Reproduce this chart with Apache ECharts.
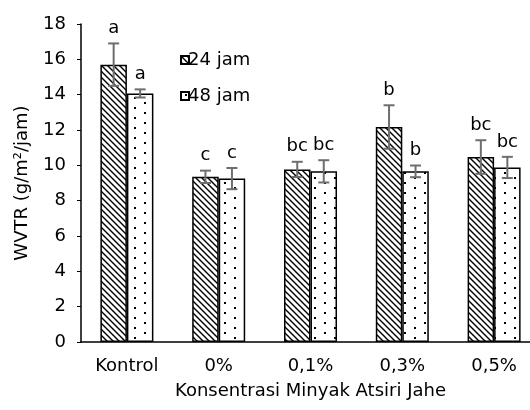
<!DOCTYPE html>
<html><head><meta charset="utf-8">
<script src="https://cdn.jsdelivr.net/npm/echarts@6/dist/echarts.min.js"></script>
<style>html,body{margin:0;padding:0;background:#fff;overflow:hidden;width:530px;height:410px}#c{width:540px;height:410px}</style>
</head><body><div id="c"></div>
<script>
var categories = ['Kontrol', '0%', '0,1%', '0,3%', '0,5%'];
var seriesNames = ['24 jam', '48 jam'];
var mean24 = [15.7, 9.35, 9.77, 12.17, 10.47];
var sd24 = [1.2, 0.35, 0.43, 1.23, 0.95];
var mean48 = [14.07, 9.25, 9.66, 9.66, 9.88];
var sd48 = [0.23, 0.6, 0.63, 0.33, 0.6];
var letters24 = ['a', 'c', 'bc', 'b', 'bc'];
var letters48 = ['a', 'c', 'bc', 'b', 'bc'];
var yTicks = {min: 0, max: 18, interval: 2};

var FONT = 'DejaVu Sans';
var BAR_W = 26.5;

function hatchPattern() {
  var c = document.createElement('canvas');
  c.width = 6; c.height = 6;
  var g = c.getContext('2d');
  g.fillStyle = '#fff'; g.fillRect(0, 0, 6, 6);
  g.strokeStyle = '#000'; g.lineWidth = 1.4;
  g.beginPath();
  g.moveTo(-1, -1); g.lineTo(7, 7);
  g.moveTo(-1, 5); g.lineTo(1, 7);
  g.moveTo(5, -1); g.lineTo(7, 1);
  g.stroke();
  return c;
}
function dotPattern() {
  var c = document.createElement('canvas');
  c.width = 20; c.height = 10;
  var g = c.getContext('2d');
  g.fillStyle = '#fff'; g.fillRect(0, 0, 20, 10);
  g.fillStyle = '#000';
  g.fillRect(4, 2, 2, 2);
  g.fillRect(14, 7, 2, 2);
  return c;
}

function errSeries(means, sds, letters, sign) {
  var data = means.map(function (m, i) { return [i, m, sds[i]]; });
  return {
    type: 'custom',
    z: 5,
    clip: false,
    silent: true,
    data: data,
    encode: {x: 0, y: 1},
    renderItem: function (params, api) {
      var i = api.value(0), m = api.value(1), s = api.value(2);
      var lab = letters[params.dataIndex];
      var c = api.coord([i, m]);
      var x = c[0] + sign * BAR_W / 2;
      var top = api.coord([i, m + s])[1];
      var bot = api.coord([i, m - s])[1];
      var cap = 5.5;
      var st = {stroke: '#6e6e6e', lineWidth: 2};
      return {
        type: 'group',
        children: [
          {type: 'line', shape: {x1: x, y1: top, x2: x, y2: bot}, style: st},
          {type: 'line', shape: {x1: x - cap, y1: top, x2: x + cap, y2: top}, style: st},
          {type: 'line', shape: {x1: x - cap, y1: bot, x2: x + cap, y2: bot}, style: st},
          {type: 'text', style: {text: lab, x: x, y: top - 6, align: 'center', verticalAlign: 'bottom',
            fill: '#000', font: '18px "' + FONT + '"'}}
        ]
      };
    }
  };
}

var chart = echarts.init(document.getElementById('c'), null, {renderer: 'canvas'});
chart.setOption({
  animation: false,
  backgroundColor: '#fff',
  textStyle: {fontFamily: FONT},
  grid: {left: 81, right: 0, top: 24, bottom: 68, containLabel: false},
  legend: {
    orient: 'vertical', left: 180, top: 51, padding: 0,
    icon: 'rect',
    itemWidth: 8, itemHeight: 8, itemGap: 18,
    data: seriesNames,
    textStyle: {fontSize: 18, color: '#000', fontFamily: FONT, padding: [0, 0, 0, -6]}
  },
  xAxis: {
    type: 'category', data: categories,
    axisLine: {lineStyle: {color: '#000', width: 1.5}},
    axisTick: {show: false},
    axisLabel: {color: '#000', fontSize: 18, margin: 15, fontFamily: FONT},
    name: 'Konsentrasi Minyak Atsiri Jahe', nameLocation: 'middle', nameGap: 40,
    nameTextStyle: {color: '#000', fontSize: 18, fontFamily: FONT}
  },
  yAxis: {
    type: 'value', min: yTicks.min, max: yTicks.max, interval: yTicks.interval,
    axisLine: {show: true, lineStyle: {color: '#000', width: 1.5}},
    axisTick: {show: true, length: 4, lineStyle: {color: '#000', width: 1}},
    splitLine: {show: false},
    axisLabel: {color: '#000', fontSize: 18, margin: 15, fontFamily: FONT},
    name: 'WVTR (g/m²/jam)', nameLocation: 'middle', nameGap: 50, nameRotate: 90,
    nameTextStyle: {color: '#000', fontSize: 18, fontFamily: FONT}
  },
  series: [
    {name: seriesNames[0], type: 'bar', data: mean24, barWidth: BAR_W, barGap: '0%',
      itemStyle: {color: {image: hatchPattern(), repeat: 'repeat'}, borderColor: '#000', borderWidth: 1.5}},
    {name: seriesNames[1], type: 'bar', data: mean48, barWidth: BAR_W, barGap: '0%',
      itemStyle: {color: {image: dotPattern(), repeat: 'repeat'}, borderColor: '#000', borderWidth: 1.5}},
    errSeries(mean24, sd24, letters24, -1),
    errSeries(mean48, sd48, letters48, 1)
  ]
});
</script></body></html>
